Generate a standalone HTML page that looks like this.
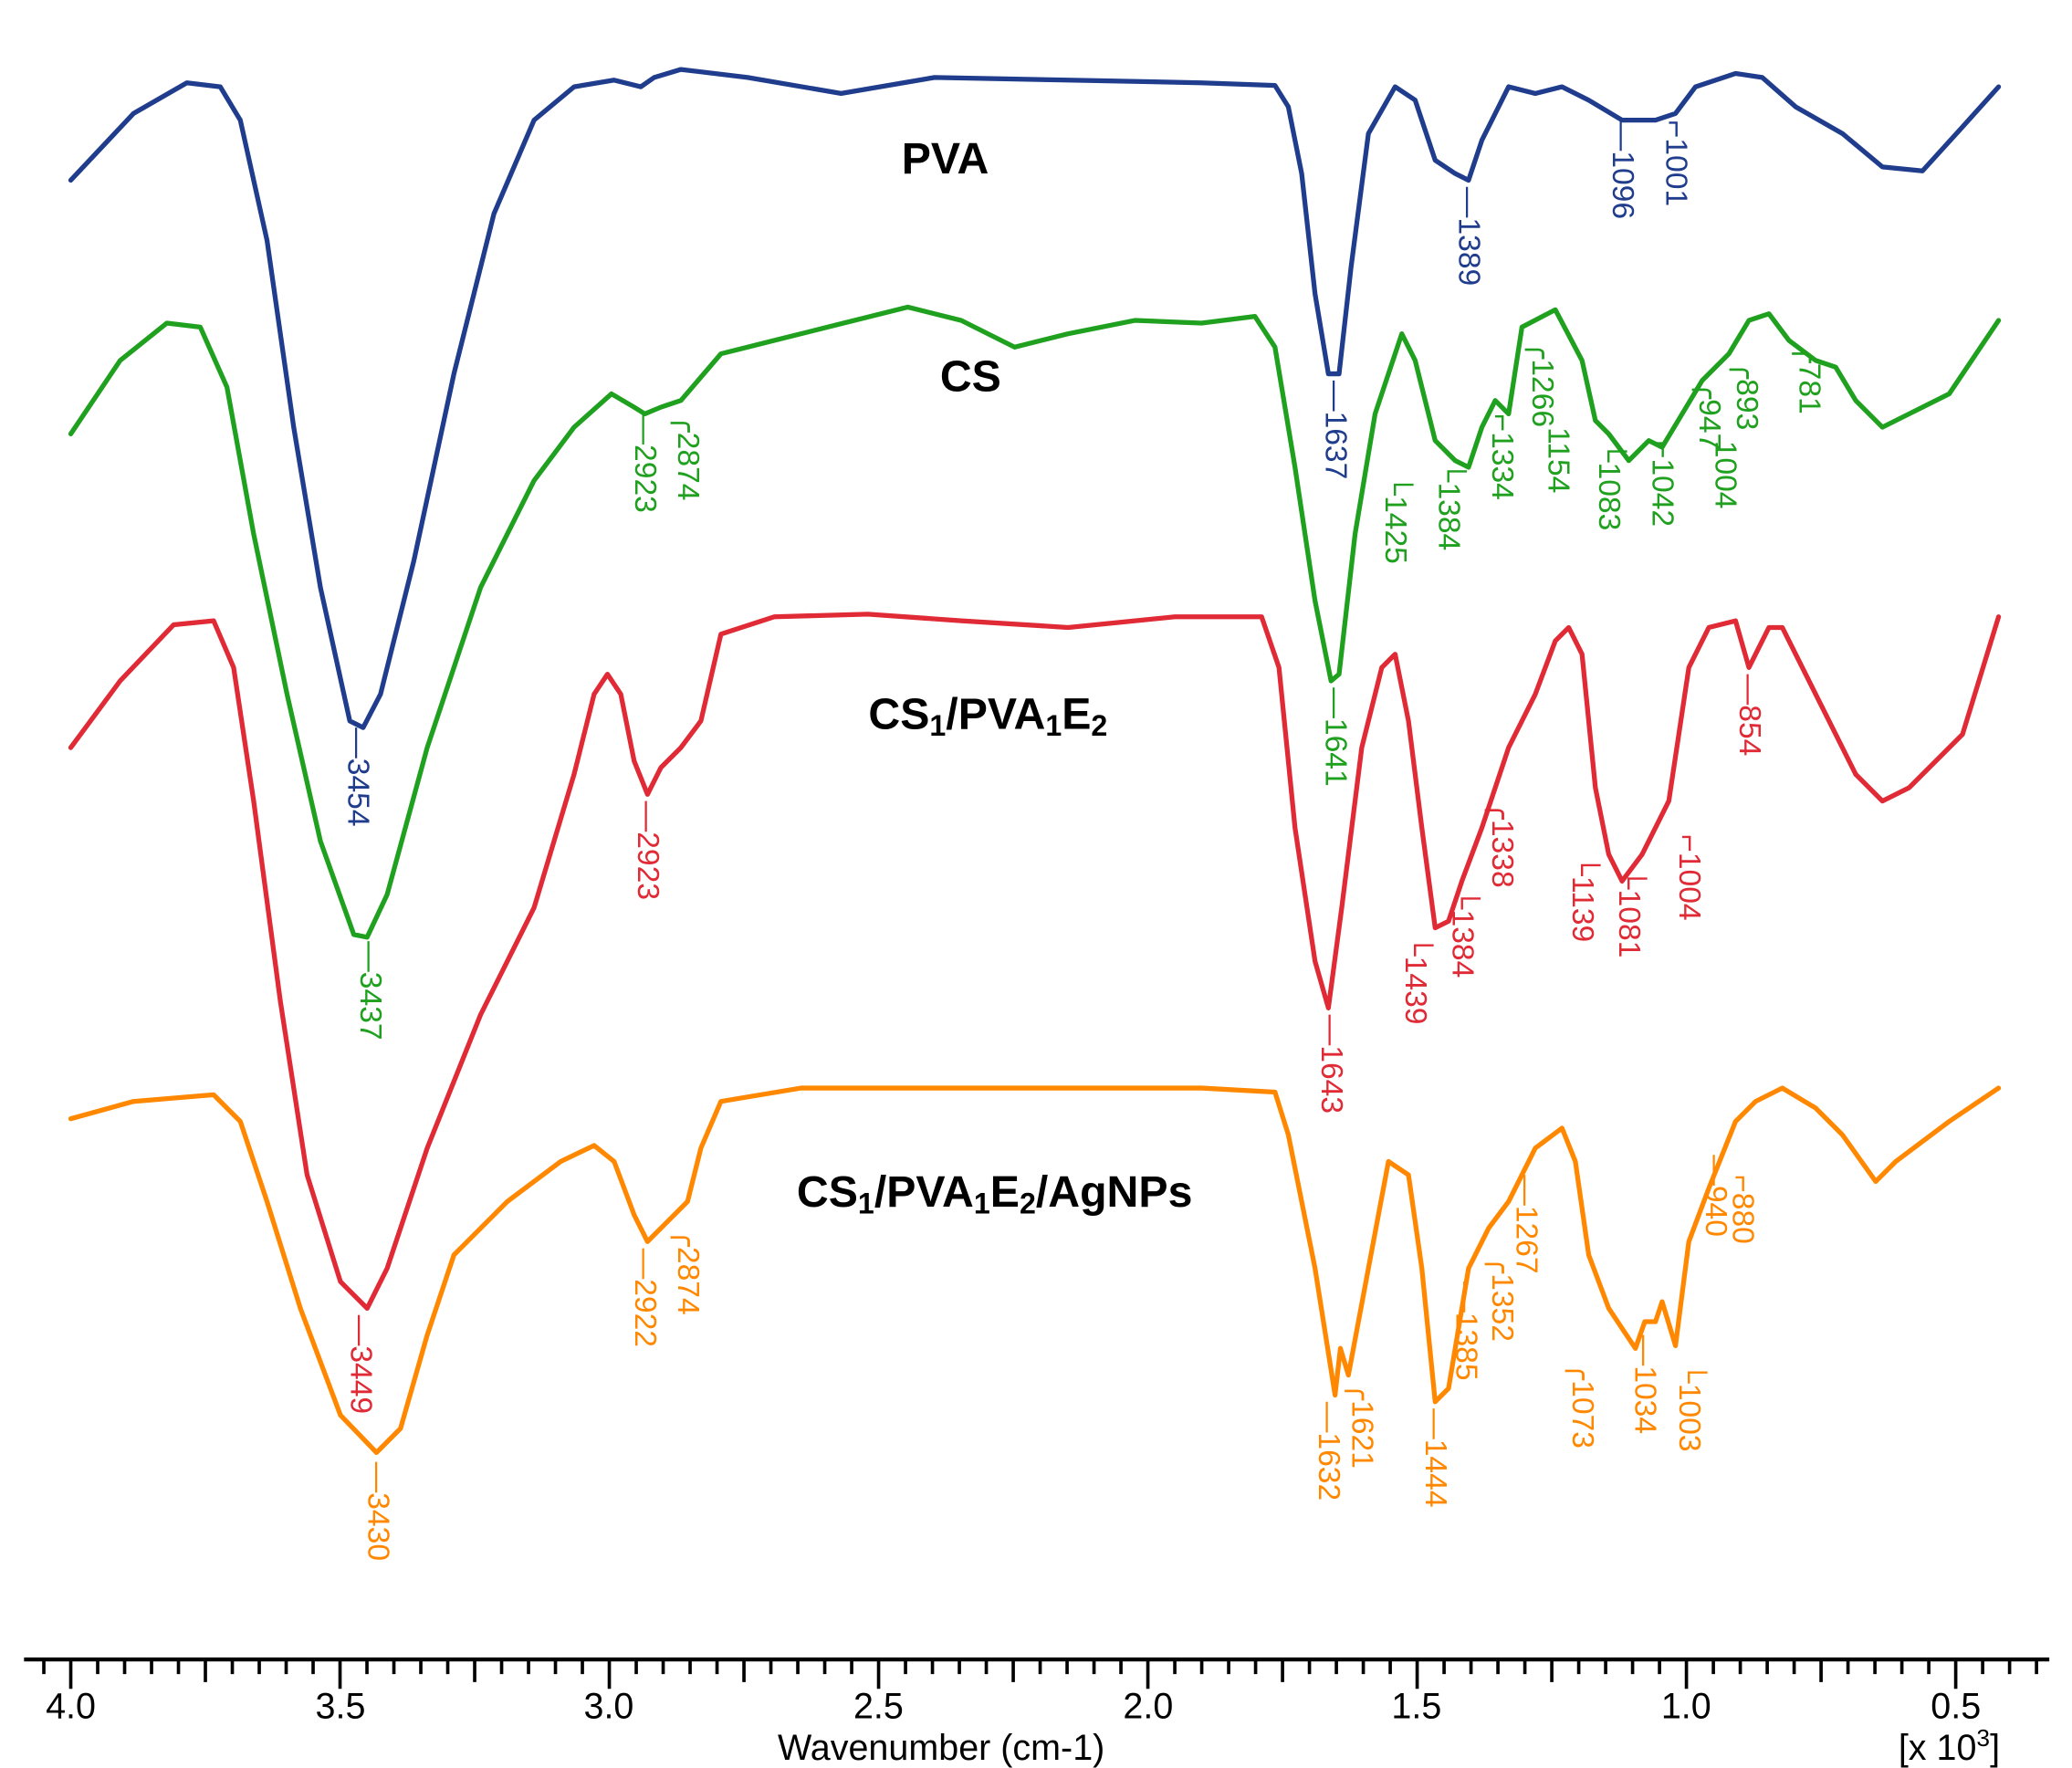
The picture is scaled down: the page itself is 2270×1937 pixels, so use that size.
<!DOCTYPE html>
<html><head><meta charset="utf-8"><style>
html,body{margin:0;padding:0;background:#fff;}
svg{display:block;}
.lab{font-family:"Liberation Sans",sans-serif;font-size:23px;}
.ttl{font-family:"Liberation Sans",sans-serif;font-weight:bold;font-size:33px;fill:#000;}
.ax{font-family:"Liberation Sans",sans-serif;font-size:27px;fill:#000;}
</style></head><body>
<svg width="2270" height="1937" viewBox="0 0 1552 1324.3" xmlns="http://www.w3.org/2000/svg">
<rect width="1552" height="1325" fill="#fff"/>
<g fill="none" stroke-width="3.6" stroke-linejoin="round" stroke-linecap="round">
<polyline stroke="#1f3d8c" points="53,135 100,85 140,62 165,65 180,90 200,180 220,320 240,440 262,540 272,545 285,520 310,420 340,280 370,160 400,90 430,65 460,60 480,65 490,58 510,52 560,58 630,70 700,58 800,60 900,62 955,64 965,80 975,130 985,220 995,280 1003,280 1012,200 1025,100 1045,65 1060,75 1075,120 1090,130 1100,135 1110,105 1130,65 1150,70 1170,65 1190,75 1215,90 1240,90 1255,85 1270,65 1300,55 1320,58 1345,80 1380,100 1410,125 1440,128 1470,95 1497,65"/>
<polyline stroke="#1fa01f" points="53,325 90,270 125,242 150,245 170,290 190,400 215,520 240,630 265,700 275,702 290,670 320,560 360,440 400,360 430,320 458,295 475,305 483,310 495,305 510,300 540,265 580,255 620,245 680,230 720,240 760,260 800,250 850,240 900,242 940,237 955,260 970,350 985,450 997,510 1003,505 1015,400 1030,310 1050,250 1060,270 1075,330 1090,345 1100,350 1110,320 1120,300 1130,310 1140,245 1165,232 1185,270 1195,315 1205,325 1220,345 1235,330 1245,335 1260,310 1275,285 1295,265 1310,240 1325,235 1340,255 1360,270 1375,275 1390,300 1410,320 1430,310 1440,305 1460,295 1497,240"/>
<polyline stroke="#e02a35" points="53,560 90,510 130,468 160,465 175,500 190,600 210,750 230,880 255,960 275,980 290,950 320,860 360,760 400,680 430,580 445,520 455,505 465,520 475,570 485,595 495,575 510,560 525,540 540,475 580,462 650,460 720,465 800,470 880,462 945,462 958,500 970,620 985,720 995,755 1005,680 1020,560 1035,500 1045,490 1055,540 1065,620 1075,695 1085,690 1095,660 1110,620 1130,560 1150,520 1165,480 1175,470 1185,490 1195,590 1205,640 1215,660 1230,640 1250,600 1265,500 1280,470 1300,465 1310,500 1325,470 1335,470 1350,500 1370,540 1390,580 1410,600 1430,590 1470,550 1497,462"/>
<polyline stroke="#ff8800" points="53,838 100,825 160,820 180,840 200,900 225,980 255,1060 282,1088 300,1070 320,1000 340,940 380,900 420,870 445,858 460,870 475,910 485,930 500,915 515,900 525,860 540,825 600,815 700,815 800,815 900,815 955,818 965,850 985,950 1000,1045 1004,1010 1010,1030 1025,950 1040,870 1055,880 1065,950 1075,1050 1085,1040 1100,950 1115,920 1130,900 1150,860 1170,845 1180,870 1190,940 1205,980 1225,1010 1232,990 1240,990 1245,975 1255,1008 1265,930 1280,890 1300,840 1315,825 1335,815 1360,830 1380,850 1405,885 1420,870 1460,840 1497,815"/>
</g>
<g class="lab">
<g fill="#1f3d8c">
<text transform="translate(1093,140) rotate(90)">—1389</text>
<text transform="translate(1208,90) rotate(90)">—1096</text>
<text transform="translate(1248,90) rotate(90)">⌐1001</text>
<text transform="translate(993,285) rotate(90)">—1637</text>
<text transform="translate(261,545) rotate(90)">—3454</text>
</g>
<g fill="#1fa01f">
<text transform="translate(476,310) rotate(90)">—2923</text>
<text transform="translate(508,310) rotate(90)">╭2874</text>
<text transform="translate(1038,355) rotate(90)">└1425</text>
<text transform="translate(1078,345) rotate(90)">└1384</text>
<text transform="translate(1118,310) rotate(90)">⌐1334</text>
<text transform="translate(1148,255) rotate(90)">╭1266</text>
<text transform="translate(1160,320) rotate(90)">1154</text>
<text transform="translate(1198,330) rotate(90)">└1083</text>
<text transform="translate(1238,330) rotate(90)">⌐1042</text>
<text transform="translate(1273,285) rotate(90)">╭947</text>
<text transform="translate(1285,330) rotate(90)">1004</text>
<text transform="translate(1301,270) rotate(90)">╭893</text>
<text transform="translate(1348,258) rotate(90)">╭781</text>
<text transform="translate(993,515) rotate(90)">—1641</text>
<text transform="translate(270,705) rotate(90)">—3437</text>
</g>
<g fill="#e02a35">
<text transform="translate(478,600) rotate(90)">—2923</text>
<text transform="translate(1118,600) rotate(90)">╭1338</text>
<text transform="translate(1178,640) rotate(90)">└1139</text>
<text transform="translate(1213,650) rotate(90)">└1081</text>
<text transform="translate(1258,625) rotate(90)">⌐1004</text>
<text transform="translate(1303,505) rotate(90)">—854</text>
<text transform="translate(1053,700) rotate(90)">└1439</text>
<text transform="translate(1088,665) rotate(90)">└1384</text>
<text transform="translate(990,760) rotate(90)">—1643</text>
<text transform="translate(263,985) rotate(90)">—3449</text>
</g>
<g fill="#ff8800">
<text transform="translate(476,935) rotate(90)">—2922</text>
<text transform="translate(508,920) rotate(90)">╭2874</text>
<text transform="translate(1136,880) rotate(90)">—1267</text>
<text transform="translate(1118,940) rotate(90)">╭1352</text>
<text transform="translate(1091,960) rotate(90)">—1385</text>
<text transform="translate(1178,1020) rotate(90)">╭1073</text>
<text transform="translate(1225,1000) rotate(90)">—1034</text>
<text transform="translate(1258,1020) rotate(90)">└1003</text>
<text transform="translate(1278,865) rotate(90)">—940</text>
<text transform="translate(1298,880) rotate(90)">⌐880</text>
<text transform="translate(1013,1035) rotate(90)">╭1621</text>
<text transform="translate(1068,1055) rotate(90)">—1444</text>
<text transform="translate(988,1050) rotate(90)">—1632</text>
<text transform="translate(276,1095) rotate(90)">—3430</text>
</g>
</g>
<text class="ttl" x="708" y="130" text-anchor="middle">PVA</text>
<text class="ttl" x="727" y="293" text-anchor="middle">CS</text>
<text class="ttl" x="740" y="546" text-anchor="middle">CS<tspan font-size="22" dy="5">1</tspan><tspan dy="-5">/PVA</tspan><tspan font-size="22" dy="5">1</tspan><tspan dy="-5">E</tspan><tspan font-size="22" dy="5">2</tspan></text>
<text class="ttl" x="745" y="904" text-anchor="middle">CS<tspan font-size="22" dy="5">1</tspan><tspan dy="-5">/PVA</tspan><tspan font-size="22" dy="5">1</tspan><tspan dy="-5">E</tspan><tspan font-size="22" dy="5">2</tspan><tspan dy="-5">/AgNPs</tspan></text>
<line x1="18" y1="1243" x2="1535" y2="1243" stroke="#000" stroke-width="3"/>
<path stroke="#000" stroke-width="2.5" fill="none" d="M32.83 1243v11 M53 1243v22 M73.17 1243v11 M93.34 1243v11 M113.51 1243v11 M133.68 1243v11 M153.85 1243v17 M174.02 1243v11 M194.19 1243v11 M214.36 1243v11 M234.53 1243v11 M254.7 1243v22 M274.87 1243v11 M295.04 1243v11 M315.21 1243v11 M335.38 1243v11 M355.55 1243v17 M375.72 1243v11 M395.89 1243v11 M416.06 1243v11 M436.23 1243v11 M456.4 1243v22 M476.57 1243v11 M496.74 1243v11 M516.91 1243v11 M537.08 1243v11 M557.25 1243v17 M577.42 1243v11 M597.59 1243v11 M617.76 1243v11 M637.93 1243v11 M658.1 1243v22 M678.27 1243v11 M698.44 1243v11 M718.61 1243v11 M738.78 1243v11 M758.95 1243v17 M779.12 1243v11 M799.29 1243v11 M819.46 1243v11 M839.63 1243v11 M859.8 1243v22 M879.97 1243v11 M900.14 1243v11 M920.31 1243v11 M940.48 1243v11 M960.65 1243v17 M980.82 1243v11 M1000.99 1243v11 M1021.16 1243v11 M1041.33 1243v11 M1061.5 1243v22 M1081.67 1243v11 M1101.84 1243v11 M1122.01 1243v11 M1142.18 1243v11 M1162.35 1243v17 M1182.52 1243v11 M1202.69 1243v11 M1222.86 1243v11 M1243.03 1243v11 M1263.2 1243v22 M1283.37 1243v11 M1303.54 1243v11 M1323.71 1243v11 M1343.88 1243v11 M1364.05 1243v17 M1384.22 1243v11 M1404.39 1243v11 M1424.56 1243v11 M1444.73 1243v11 M1464.9 1243v22 M1485.07 1243v11 M1505.24 1243v11 M1525.41 1243v11"/>
<g class="ax" text-anchor="middle">
<text x="53" y="1287">4.0</text>
<text x="255" y="1287">3.5</text>
<text x="456" y="1287">3.0</text>
<text x="658" y="1287">2.5</text>
<text x="860" y="1287">2.0</text>
<text x="1061" y="1287">1.5</text>
<text x="1263" y="1287">1.0</text>
<text x="1465" y="1287">0.5</text>
<text x="705" y="1318">Wavenumber (cm-1)</text>
<text x="1460" y="1318">[x 10<tspan font-size="18" dy="-10">3</tspan><tspan dy="10">]</tspan></text>
</g>
</svg>
</body></html>
